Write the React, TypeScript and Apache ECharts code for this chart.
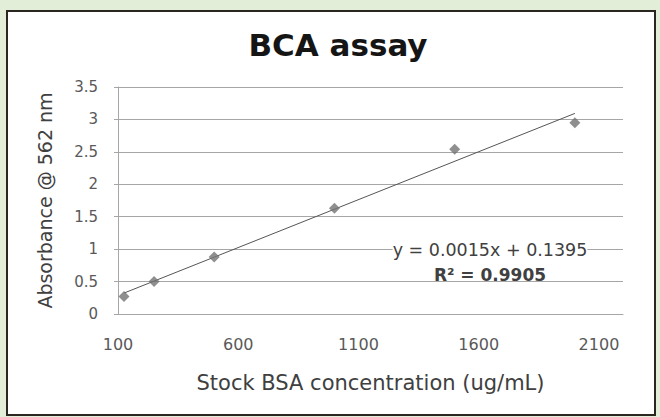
import React, { useEffect, useRef } from "react";
import * as echarts from "echarts";

const concentrations = [125, 250, 500, 1000, 1500, 2000];
const absorbances = [0.27, 0.5, 0.88, 1.63, 2.54, 2.95];
const xTickLabels = [100, 600, 1100, 1600, 2100];
const chartTitle = "BCA assay";
const xAxisTitle = "Stock BSA concentration (ug/mL)";
const yAxisTitle = "Absorbance @ 562 nm";
const equationText = "y = 0.0015x + 0.1395";
const r2Text = "R² = 0.9905";

function fit(xs: number[], ys: number[]) {
  const n = xs.length;
  const mx = xs.reduce((a, b) => a + b, 0) / n;
  const my = ys.reduce((a, b) => a + b, 0) / n;
  let sxy = 0;
  let sxx = 0;
  for (let i = 0; i < n; i++) {
    sxy += (xs[i] - mx) * (ys[i] - my);
    sxx += (xs[i] - mx) * (xs[i] - mx);
  }
  const slope = sxy / sxx;
  return { slope, intercept: my - slope * mx };
}

export default function App() {
  const ref = useRef<HTMLDivElement>(null);
  useEffect(() => {
    if (!ref.current) return;
    const chart = echarts.init(ref.current, null, { renderer: "svg" });
    const { slope, intercept } = fit(concentrations, absorbances);
    const x0 = Math.min(...concentrations);
    const x1 = Math.max(...concentrations);
    const font = "DejaVu Sans";
    chart.setOption({
      animation: false,
      backgroundColor: "#e3eed8",
      textStyle: { fontFamily: font },
      grid: { left: 118, right: 37, top: 87, bottom: 103, containLabel: false },
      graphic: [
        {
          type: "rect",
          z: -10,
          shape: { x: 7, y: 11, width: 648, height: 404 },
          style: { fill: "#ffffff", stroke: "#2b2620", lineWidth: 2 },
        },
        {
          type: "text",
          x: 338,
          y: 45,
          z: 10,
          style: {
            text: chartTitle,
            font: `bold 31px "${font}"`,
            fill: "#151515",
            align: "center",
            verticalAlign: "middle",
          },
        },
        {
          type: "text",
          x: 490,
          y: 250,
          z: 10,
          style: {
            text: equationText,
            font: `17.5px "${font}"`,
            fill: "#404040",
            align: "center",
            verticalAlign: "middle",
            backgroundColor: "#ffffff",
          },
        },
        {
          type: "text",
          x: 490,
          y: 275,
          z: 10,
          style: {
            text: r2Text,
            font: `bold 17px "${font}"`,
            fill: "#404040",
            align: "center",
            verticalAlign: "middle",
          },
        },
      ],
      xAxis: {
        type: "value",
        min: 100,
        max: 2200,
        name: xAxisTitle,
        nameLocation: "middle",
        nameGap: 58,
        nameTextStyle: { fontSize: 21, color: "#404040", fontFamily: font },
        axisLine: { show: true, onZero: false, lineStyle: { color: "#a6a6a6", width: 1 } },
        axisTick: { show: false },
        splitLine: { show: false },
        axisLabel: {
          customValues: xTickLabels,
          formatter: (v: number) => String(v),
          margin: 22,
          fontSize: 16,
          color: "#595959",
          fontFamily: font,
        },
      },
      yAxis: {
        type: "value",
        min: 0,
        max: 3.5,
        interval: 0.5,
        name: yAxisTitle,
        nameLocation: "middle",
        nameGap: 64,
        nameTextStyle: { fontSize: 19, color: "#404040", fontFamily: font },
        axisLine: { show: true, onZero: false, lineStyle: { color: "#a6a6a6", width: 1 } },
        axisTick: { show: true, length: 4, lineStyle: { color: "#a6a6a6" } },
        splitLine: { show: true, lineStyle: { color: "#a6a6a6", width: 1 } },
        axisLabel: { margin: 20, fontSize: 15, color: "#595959", fontFamily: font },
      },
      series: [
        {
          type: "line",
          name: "Linear fit",
          data: [
            [x0, intercept + slope * x0],
            [x1, intercept + slope * x1],
          ],
          showSymbol: false,
          symbol: "none",
          lineStyle: { color: "#555555", width: 1 },
          z: 3,
        },
        {
          type: "scatter",
          name: "Absorbance",
          data: concentrations.map((c, i) => [c, absorbances[i]]),
          symbol: "diamond",
          symbolSize: [11, 11],
          itemStyle: { color: "#737373" },
          z: 4,
        },
      ],
    });
    return () => chart.dispose();
  }, []);
  return (
    <div
      ref={ref}
      style={{ position: "fixed", left: 0, top: 0, width: 660, height: 417 }}
    />
  );
}
